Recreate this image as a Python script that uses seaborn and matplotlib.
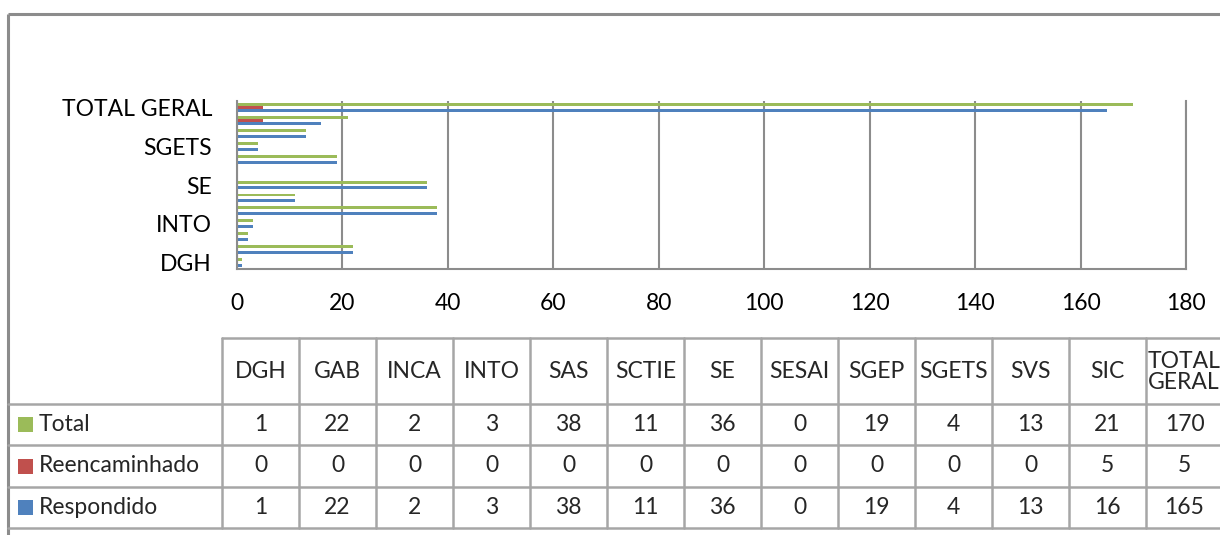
import matplotlib
matplotlib.use("Agg")
import matplotlib.pyplot as plt
import seaborn as sns
import pandas as pd

categories = ["DGH", "GAB", "INCA", "INTO", "SAS", "SCTIE", "SE", "SESAI",
              "SGEP", "SGETS", "SVS", "SIC", "TOTAL GERAL"]
respondido = [1, 22, 2, 3, 38, 11, 36, 0, 19, 4, 13, 16, 165]
reencaminhado = [0, 0, 0, 0, 0, 0, 0, 0, 0, 0, 0, 5, 5]
total = [1, 22, 2, 3, 38, 11, 36, 0, 19, 4, 13, 21, 170]
series_names = ["Total", "Reencaminhado", "Respondido"]
series_values = [total, reencaminhado, respondido]
colors = {"Respondido": "#4F81BD", "Reencaminhado": "#C0504D", "Total": "#9BBB59"}
x_ticks = [0, 20, 40, 60, 80, 100, 120, 140, 160, 180]

sns.set_theme(style="white")
plt.rcParams["font.family"] = ["Lato", "DejaVu Sans"]

rows = []
for name, vals in zip(series_names, series_values):
    for c, v in zip(categories, vals):
        rows.append({"cat": c, "serie": name, "valor": v})
df = pd.DataFrame(rows)

W, H = 1220, 535
fig = plt.figure(figsize=(W / 100, H / 100), dpi=100)
fig.patch.set_facecolor("white")

# background layer (frame + data table), in pixel coords
bg = fig.add_axes([0, 0, 1, 1], zorder=0)
bg.set_xlim(0, W)
bg.set_ylim(H, 0)
bg.axis("off")

grey = "#8c8c8c"
tgrey = "#a6a6a6"
bg.plot([8, W], [14, 14], color=grey, lw=2.2, solid_capstyle="butt")
bg.plot([8, 8], [14, H], color=grey, lw=2.2, solid_capstyle="butt")

# main chart
x0, x1, ytop, ybot = 237, 1186, 101, 269
ax = fig.add_axes([x0 / W, 1 - ybot / H, (x1 - x0) / W, (ybot - ytop) / H], zorder=1)
ax.patch.set_alpha(0)
order = categories[::-1]
sns.barplot(data=df, y="cat", x="valor", hue="serie", order=order,
            hue_order=series_names, palette=colors, orient="h",
            width=0.68, legend=False, ax=ax, saturation=1, edgecolor="none")
ax.set_xlim(0, 180)
ax.set_ylim(len(categories) - 0.5, -0.5)
ax.set_xticks(x_ticks)
ax.set_xticklabels([str(t) for t in x_ticks], fontsize=16.5, color="black")
ax.set_yticks(range(0, len(order), 3))
ax.set_yticklabels(order[0::3], fontsize=16.5, color="black")
ax.tick_params(axis="x", length=0, pad=17)
ax.tick_params(axis="y", length=0, pad=18)
ax.set_xlabel("")
ax.set_ylabel("")
ax.xaxis.grid(True, color=grey, lw=1.5)
ax.yaxis.grid(False)
ax.set_axisbelow(True)
ax.spines["top"].set_visible(False)
for s in ["left", "bottom", "right"]:
    ax.spines[s].set_color(grey)
    ax.spines[s].set_linewidth(1.5)

# data table
col0 = 222
cw = 77
y_head_top, y_head_bot = 338, 404
row_edges = [404, 445, 487, 528]
ncol = len(categories)
right = col0 + cw * ncol
lw_t = 1.8
bg.plot([col0, right], [y_head_top, y_head_top], color=tgrey, lw=lw_t)
for yy in row_edges:
    bg.plot([8, right], [yy, yy], color=tgrey, lw=lw_t)
for i in range(ncol + 1):
    xx = col0 + cw * i
    bg.plot([xx, xx], [y_head_top, row_edges[-1]], color=tgrey, lw=lw_t)

fs = 16.5
for i, c in enumerate(categories):
    if c == "TOTAL GERAL":
        bg.text(col0 + cw * i + 2, (y_head_top + y_head_bot) / 2 + 1, "TOTAL\nGERAL",
                ha="left", va="center", fontsize=fs, linespacing=1.0)
    else:
        bg.text(col0 + cw * (i + 0.5), (y_head_top + y_head_bot) / 2, c,
                ha="center", va="center", fontsize=fs)

for r, (name, vals) in enumerate(zip(series_names, series_values)):
    yc = (row_edges[r] + row_edges[r + 1]) / 2
    bg.add_patch(plt.Rectangle((18, yc - 7.5), 15, 15, facecolor=colors[name], lw=0))
    bg.text(39, yc, name, ha="left", va="center", fontsize=fs)
    for i, v in enumerate(vals):
        bg.text(col0 + cw * (i + 0.5), yc, str(v), ha="center", va="center", fontsize=fs)

fig.savefig("out.png", dpi=100, facecolor="white")
